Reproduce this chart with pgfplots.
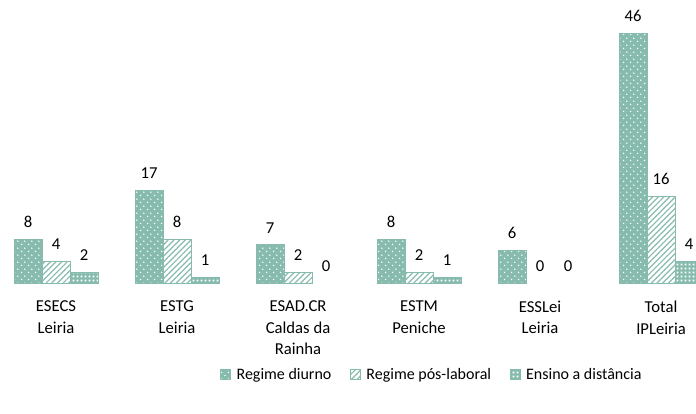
\documentclass[border=0pt]{standalone}
\usepackage{fontspec}
\setmainfont{Carlito}
\usepackage{pgfplots}
\pgfplotsset{compat=1.18}
\usetikzlibrary{patterns.meta}
\definecolor{teal1}{RGB}{135,187,174}
\tikzdeclarepattern{
  name=wdots, type=uncolored,
  bottom left={(0pt,0pt)}, top right={(5pt,5pt)},
  tile size={(5pt,5pt)},
  code={\fill (1.25pt,1.25pt) circle (0.6pt); \fill (3.75pt,3.75pt) circle (0.6pt);}
}
\tikzdeclarepattern{
  name=wsq, type=uncolored,
  bottom left={(0pt,0pt)}, top right={(3pt,3pt)},
  tile size={(3pt,3pt)},
  code={\fill (0.5pt,0.5pt) rectangle (2.2pt,2.2pt);}
}
\pgfplotsset{
  mylegend/.style={legend image code/.code={\draw[##1] (0pt,-3.75pt) rectangle (7.5pt,3.75pt);}},
  s1/.style={fill=teal1, draw=teal1, line width=0.75pt, postaction={pattern=wdots, pattern color=white}, mylegend},
  s2/.style={fill=white, draw=teal1, line width=0.75pt, postaction={pattern={Lines[angle=45,distance=3pt,line width=0.9pt]}, pattern color=teal1}, mylegend},
  s3/.style={fill=teal1, draw=teal1, line width=0.75pt, postaction={pattern=wsq, pattern color=white}, mylegend},
}
\begin{document}
\begin{tikzpicture}[x=1pt,y=1pt]
\begin{axis}[
  at={(0,0)}, anchor=south west,
  scale only axis, width=522pt, height=212.25pt,
  xmin=-0.463, xmax=5.289, ymin=0, ymax=52.12,
  axis line style={draw=none},
  ytick=\empty,
  xtick={0,...,5},
  xticklabels={ESECS\\Leiria, ESTG\\Leiria, ESAD.CR\\Caldas da\\Rainha, ESTM\\Peniche, ESSLei\\Leiria, Total\\IPLeiria},
  major tick length=0pt,
  xticklabel style={align=center, font=\fontsize{12.5}{16.1}\selectfont, inner sep=0pt, anchor=north, yshift=-13.3pt, text=black},
  /pgf/number format/assume math mode=true,
  ybar, bar width=0.2314,
  nodes near coords,
  every node near coord/.append style={font=\fontsize{12.5}{15}\selectfont, inner sep=0pt, anchor=south, yshift=8.5pt, text=black},
  legend columns=3,
  legend style={draw=none, fill=none, at={(axis description cs:0.621,-0.325)}, anchor=center,
    font=\fontsize{12}{14}\selectfont, inner sep=0pt,
    /tikz/every odd column/.append style={column sep=2pt},
    /tikz/every even column/.append style={column sep=12pt}},
  legend cell align=left,
]
\addplot[s1, bar shift=-0.2314] coordinates {(0,8) (1,17) (2,7) (3,8) (4,6) (5,46)};
\addplot[s2, bar shift=0] coordinates {(0,4) (1,8) (2,2) (3,2) (5,16)};
\addplot[s3, bar shift=0.2314] coordinates {(0,2) (1,1) (3,1) (5,4)};
\addplot[draw=none, fill=none, bar shift=0, forget plot] coordinates {(4,0)};
\addplot[draw=none, fill=none, bar shift=0.2314, forget plot] coordinates {(2,0) (4,0)};
\legend{Regime diurno, Regime pós-laboral, Ensino a distância}
\end{axis}
\pgfresetboundingbox
\path (0,-98.25) rectangle (522,212.25);
\end{tikzpicture}
\end{document}
